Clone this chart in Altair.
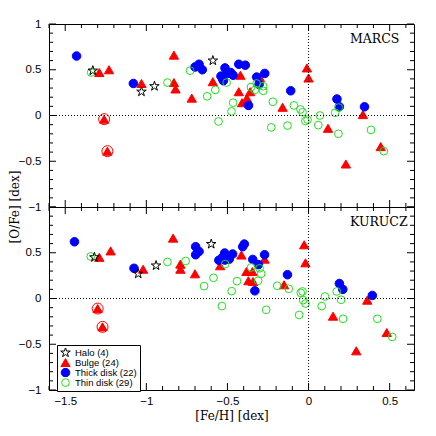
import altair as alt
import pandas as pd

GROUPS = ["Halo (4)", "Bulge (24)", "Thick disk (22)", "Thin disk (29)"]

# ---------------- MARCS panel ----------------
marcs_halo_feh = [-1.33, -1.03, -0.95, -0.59]
marcs_halo_ofe = [0.49, 0.26, 0.32, 0.60]
marcs_bulge_feh = [-1.29, -1.23, -1.26, -1.24, -1.03, -0.83, -0.83, -0.82, -0.72, -0.59, -0.42, -0.43,
                   -0.41, -0.38, -0.36, -0.30, -0.16, -0.01, 0.00, 0.12, 0.23, 0.335, 0.445]
marcs_bulge_ofe = [0.47, 0.50, -0.04, -0.39, 0.35, 0.66, 0.36, 0.29, 0.19, 0.37, 0.44, 0.26,
                   0.14, 0.19, 0.26, 0.415, 0.09, 0.52, 0.41, -0.14, -0.53, 0.01, -0.34]
marcs_thick_feh = [-1.43, -1.08, -0.70, -0.675, -0.655, -0.515, -0.54, -0.525, -0.48, -0.465, -0.43,
                   -0.39, -0.37, -0.32, -0.27, -0.305, -0.11, 0.175, 0.19, 0.345, -0.53, -0.50]
marcs_thick_ofe = [0.65, 0.35, 0.53, 0.56, 0.50, 0.52, 0.43, 0.38, 0.47, 0.44, 0.56,
                   0.55, 0.11, 0.42, 0.46, 0.34, 0.27, 0.18, 0.095, 0.095, 0.40, 0.46]
marcs_thin_feh = [-1.34, -0.87, -0.73, -0.575, -0.625, -0.555, -0.505, -0.465, -0.475, -0.355, -0.33,
                  -0.32, -0.28, -0.28, -0.22, -0.09, -0.23, -0.13, -0.05, -0.037, -0.02, -0.006, 0.07,
                  0.06, 0.186, 0.164, 0.184, 0.385, 0.464]
marcs_thin_ofe = [0.47, 0.36, 0.49, 0.28, 0.21, -0.065, 0.36, 0.14, 0.045, 0.31, 0.28,
                  0.35, 0.27, 0.32, 0.15, 0.11, -0.13, -0.11, 0.066, 0.036, -0.06, -0.045, 0.0,
                  -0.105, 0.087, 0.03, -0.20, -0.157, -0.39]
marcs_flag_feh = [-1.26, -1.24]
marcs_flag_ofe = [-0.04, -0.39]

# ---------------- KURUCZ panel ----------------
kurucz_halo_feh = [-1.32, -1.05, -0.94, -0.60]
kurucz_halo_ofe = [0.45, 0.27, 0.36, 0.595]
kurucz_bulge_feh = [-1.29, -1.22, -1.30, -1.27, -1.02, -0.835, -0.79, -0.79, -0.70, -0.545, -0.414,
                    -0.271, -0.383, -0.346, -0.371, -0.342, -0.151, -0.027, -0.019, 0.151, 0.294,
                    0.362, 0.482]
kurucz_bulge_ofe = [0.45, 0.52, -0.11, -0.31, 0.32, 0.66, 0.376, 0.32, 0.27, 0.358, 0.475,
                    0.43, 0.295, 0.295, 0.194, 0.186, 0.15, 0.587, 0.39, -0.193, -0.572,
                    -0.018, -0.372]
kurucz_thick_feh = [-1.443, -1.076, -0.696, -0.675, -0.696, -0.553, -0.517, -0.503, -0.516, -0.489,
                    -0.468, -0.406, -0.396, -0.344, -0.271, -0.309, -0.331, -0.13, 0.19, 0.211,
                    0.393, -0.53]
kurucz_thick_ofe = [0.62, 0.33, 0.566, 0.514, 0.478, 0.418, 0.497, 0.46, 0.42, 0.43,
                    0.486, 0.566, 0.595, 0.427, 0.478, 0.37, 0.084, 0.26, 0.164, 0.10,
                    0.033, 0.45]
kurucz_thin_feh = [-1.343, -0.87, -0.758, -0.644, -0.586, -0.534, -0.514, -0.441, -0.474, -0.354,
                   -0.302, -0.292, -0.311, -0.193, -0.122, -0.261, -0.058, -0.048, -0.037, -0.033,
                   -0.019, 0.081, 0.101, 0.174, 0.201, 0.213, 0.424, 0.516]
kurucz_thin_ofe = [0.46, 0.40, 0.41, 0.136, 0.226, -0.083, 0.376, 0.19, 0.08, 0.34,
                   0.33, 0.27, 0.194, 0.139, 0.106, -0.124, -0.18, 0.062, 0.077, -0.018,
                   -0.055, -0.083, 0.022, 0.077, -0.014, -0.222, -0.222, -0.42]
kurucz_flag_feh = [-1.30, -1.27]
kurucz_flag_ofe = [-0.11, -0.31]

# axis tick values
X_MAJOR = [-1.5, -1.0, -0.5, 0.0, 0.5]
X_MINOR = [-1.6, -1.4, -1.3, -1.2, -1.1, -0.9, -0.8, -0.7, -0.6, -0.4, -0.3, -0.2, -0.1,
           0.1, 0.2, 0.3, 0.4, 0.6]
Y_MAJOR = [-1.0, -0.5, 0.0, 0.5, 1.0]
Y_MINOR = [-0.9, -0.8, -0.7, -0.6, -0.4, -0.3, -0.2, -0.1, 0.1, 0.2, 0.3, 0.4, 0.6, 0.7, 0.8, 0.9]

STAR = ("M0,-1L0.2245,-0.309L0.9511,-0.309L0.3633,0.118L0.5878,0.809L0,0.382"
        "L-0.5878,0.809L-0.3633,0.118L-0.9511,-0.309L-0.2245,-0.309Z")

W, H = 365, 183
xscale = alt.Scale(domain=[-1.6, 0.65], nice=False, zero=False)
yscale = alt.Scale(domain=[-1, 1], nice=False, zero=False)


def build_df(sets):
    rows = []
    for g, feh, ofe in sets:
        for a, b in zip(feh, ofe):
            rows.append({"group": g, "feh": a, "ofe": b})
    return pd.DataFrame(rows)


def panel(df, flag_feh, flag_ofe, label, bottom):
    if bottom:
        xaxis = alt.Axis(values=X_MAJOR, format="~g", title="[Fe/H] [dex]", labelPadding=5,
                         titlePadding=4)
        yaxis = alt.Axis(values=[-1.0, -0.5, 0.0, 0.5], format="~g", title=None, labelPadding=8)
        leg = alt.Legend(orient="none", legendX=8, legendY=138, title=None,
                         strokeColor="black", fillColor="white", padding=3,
                         labelFont="Liberation Sans", labelFontSize=9.5, labelColor="black",
                         rowPadding=-2, labelOffset=4, symbolStrokeWidth=1, symbolSize=64,
                         clipHeight=9.2, cornerRadius=0)
    else:
        xaxis = alt.Axis(values=X_MAJOR, labels=False, title=None)
        yaxis = alt.Axis(values=Y_MAJOR, format="~g", title=None, labelPadding=8)
        leg = None

    def X(f):
        return alt.X(f, scale=xscale, axis=xaxis)

    def Y(f):
        return alt.Y(f, scale=yscale, axis=yaxis)

    layers = []
    pts = alt.Chart(df).mark_point(strokeWidth=1, opacity=1, fillOpacity=1).encode(
        x=X("feh:Q"),
        y=Y("ofe:Q"),
        shape=alt.Shape("group:N", scale=alt.Scale(domain=GROUPS,
                        range=[STAR, "triangle-up", "circle", "circle"]), legend=leg),
        color=alt.Color("group:N", scale=alt.Scale(domain=GROUPS,
                        range=["#000000", "#ff0000", "#0000ff", "#22dd22"]), legend=leg),
        fill=alt.Fill("group:N", scale=alt.Scale(domain=GROUPS,
                      range=["transparent", "#ff0000", "#0000ff", "transparent"]), legend=leg),
        size=alt.Size("group:N", scale=alt.Scale(domain=GROUPS, range=[100, 60, 36, 36]),
                      legend=None),
        order=alt.Order("ord:Q"),
    ).transform_calculate(
        ord="indexof(['Bulge (24)','Thick disk (22)','Thin disk (29)','Halo (4)'], datum.group)"
    )
    layers.append(pts)

    zero = pd.DataFrame({"v": [0.0]})
    layers.append(alt.Chart(zero).mark_rule(color="black", strokeWidth=1, strokeDash=[1, 2]).encode(
        y=Y("v:Q")))
    layers.append(alt.Chart(zero).mark_rule(color="black", strokeWidth=1, strokeDash=[1, 2]).encode(
        x=X("v:Q")))

    layers.append(alt.Chart(pd.DataFrame({"feh": flag_feh, "ofe": flag_ofe})).mark_point(
        shape="circle", size=121, color="#ff0000", strokeWidth=1, opacity=1, filled=False).encode(
        x=X("feh:Q"), y=Y("ofe:Q")))

    layers.append(alt.Chart(pd.DataFrame({"t": [label]})).mark_text(
        align="left", baseline="middle", font="DejaVu Serif", fontSize=12.5, color="black").encode(
        x=alt.value(301), y=alt.value(15), text="t:N"))

    if not bottom:
        # y-axis title centred on the boundary between the two panels
        layers.append(alt.Chart(pd.DataFrame({"t": ["[O/Fe] [dex]"]})).mark_text(
            align="center", baseline="middle", angle=270, font="DejaVu Serif", fontSize=12,
            color="black").encode(x=alt.value(-34), y=alt.value(H), text="t:N"))

    # inward ticks on all four sides
    for vals, L in [(X_MAJOR, 7), (X_MINOR, 4)]:
        d = pd.DataFrame({"v": vals})
        layers.append(alt.Chart(d).mark_rule(color="black", strokeWidth=1).encode(
            x=X("v:Q"), y=alt.value(H), y2=alt.value(H - L)))
        layers.append(alt.Chart(d).mark_rule(color="black", strokeWidth=1).encode(
            x=X("v:Q"), y=alt.value(0), y2=alt.value(L)))
    for vals, L in [(Y_MAJOR, 7), (Y_MINOR, 4)]:
        d = pd.DataFrame({"v": vals})
        layers.append(alt.Chart(d).mark_rule(color="black", strokeWidth=1).encode(
            y=Y("v:Q"), x=alt.value(0), x2=alt.value(L)))
        layers.append(alt.Chart(d).mark_rule(color="black", strokeWidth=1).encode(
            y=Y("v:Q"), x=alt.value(W), x2=alt.value(W - L)))

    return alt.layer(*layers).properties(width=W, height=H)


marcs_df = build_df([
    ("Bulge (24)", marcs_bulge_feh, marcs_bulge_ofe),
    ("Thick disk (22)", marcs_thick_feh, marcs_thick_ofe),
    ("Thin disk (29)", marcs_thin_feh, marcs_thin_ofe),
    ("Halo (4)", marcs_halo_feh, marcs_halo_ofe),
])
kurucz_df = build_df([
    ("Bulge (24)", kurucz_bulge_feh, kurucz_bulge_ofe),
    ("Thick disk (22)", kurucz_thick_feh, kurucz_thick_ofe),
    ("Thin disk (29)", kurucz_thin_feh, kurucz_thin_ofe),
    ("Halo (4)", kurucz_halo_feh, kurucz_halo_ofe),
])

top = panel(marcs_df, marcs_flag_feh, marcs_flag_ofe, "MARCS", False)
bot = panel(kurucz_df, kurucz_flag_feh, kurucz_flag_ofe, "KURUCZ", True)

chart = alt.vconcat(top, bot, spacing=0, bounds="flush").resolve_legend(
    color="independent", shape="independent", fill="independent", size="independent"
).properties(
    padding={"left": 0, "top": 9, "right": 5, "bottom": 5}
).configure_view(
    stroke="black", strokeWidth=1
).configure_axis(
    labelFont="Liberation Sans", labelFontSize=11.5, labelColor="black",
    titleFont="DejaVu Serif", titleFontSize=12, titleFontWeight="normal", titleColor="black",
    grid=False, ticks=False, tickSize=0, domain=False
)

chart.save("out.html", embed_options={"renderer": "svg", "actions": False})
